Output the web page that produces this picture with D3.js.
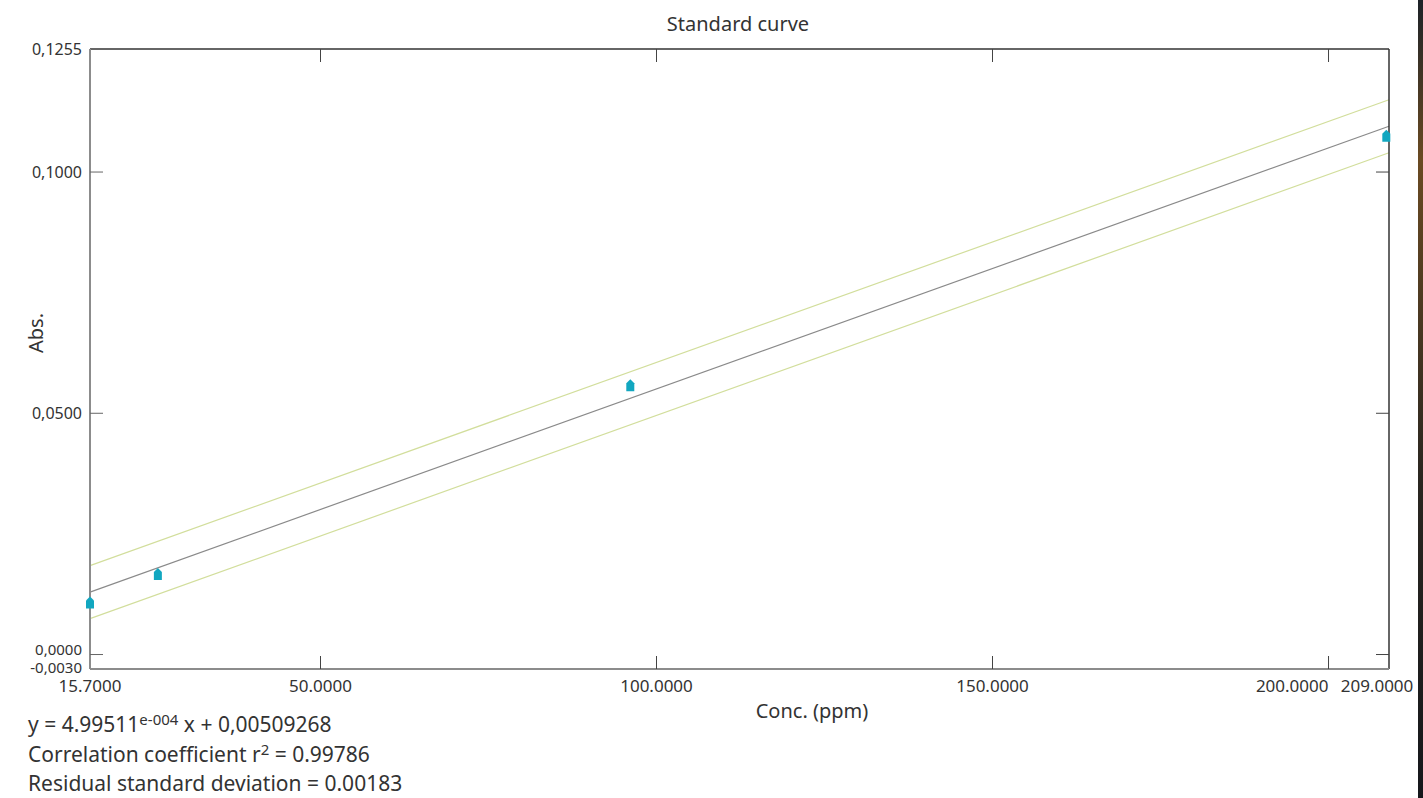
<!DOCTYPE html>
<html>
<head>
<meta charset="utf-8">
<script src="https://cdn.jsdelivr.net/npm/d3@7"></script>
<style>
  body { margin: 0; background: #fff; }
  svg { display: block; font-family: "Noto Sans", "Open Sans", sans-serif; }
  .tickLabel { font-size: 17px; fill: #333; }
  .yLabel { font-size: 16px; }
  .yLabel.tight { font-size: 15px; }
  .axisTitle { font-size: 20px; fill: #333; }
  .stats { font-size: 21px; fill: #333; }
</style>
</head>
<body>
<svg id="chart"></svg>
<script>
var width = 1423, height = 798;

// Standards.
var concValues = [15.7, 25.8, 96.1, 208.6];
var absValues = [0.0108, 0.0167, 0.0558, 0.1075];

// Regression reported by the instrument.
var slope = 4.99511e-4;
var intercept = 0.00509268;
var residualSd = 0.00183;

var xTickValues = [15.7, 50, 100, 150, 200, 209];
var xTickLabels = ["15.7000", "50.0000", "100.0000", "150.0000", "200.0000", "209.0000"];
var yTickValues = [0.1255, 0.1, 0.05, 0, -0.003];
var yTickLabels = ["0,1255", "0,1000", "0,0500", "0,0000", "-0,0030"];
var statLines = ["Correlation coefficient r", "Residual standard deviation = 0.00183"];

var plot = { left: 90, right: 1389, top: 49, bottom: 669 };

var svg = d3.select("#chart")
  .attr("width", width)
  .attr("height", height);

var x = d3.scaleLinear().domain([15.7, 209]).range([plot.left, plot.right]);
var y = d3.scaleLinear().domain([-0.003, 0.1255]).range([plot.bottom, plot.top]);

// Screen edge visible in the capture.
var edge = svg.append("defs").append("linearGradient")
  .attr("id", "edge").attr("x1", 0).attr("x2", 0).attr("y1", 0).attr("y2", 1);
edge.append("stop").attr("offset", "0%").attr("stop-color", "#1c2228");
edge.append("stop").attr("offset", "20%").attr("stop-color", "#6a4a22");
edge.append("stop").attr("offset", "60%").attr("stop-color", "#2a2620");
edge.append("stop").attr("offset", "100%").attr("stop-color", "#15171b");
svg.append("rect")
  .attr("x", 1418).attr("y", 0).attr("width", 5).attr("height", height)
  .attr("fill", "url(#edge)");

svg.append("text")
  .attr("class", "axisTitle")
  .attr("x", 738)
  .attr("y", 31)
  .attr("text-anchor", "middle")
  .text("Standard curve");

// Fit line and +/- 3 sd band.
var lines = [
  { off: 3 * residualSd, color: "#d2de9c", w: 1.2 },
  { off: -3 * residualSd, color: "#d2de9c", w: 1.2 },
  { off: 0, color: "#8a8a8a", w: 1.2 }
];
var xEnds = x.domain();
svg.append("g").selectAll("line")
  .data(lines)
  .enter().append("line")
    .attr("x1", x(xEnds[0]))
    .attr("x2", x(xEnds[1]))
    .attr("y1", function(d) { return y(slope * xEnds[0] + intercept + d.off); })
    .attr("y2", function(d) { return y(slope * xEnds[1] + intercept + d.off); })
    .attr("stroke", function(d) { return d.color; })
    .attr("stroke-width", function(d) { return d.w; });

// Frame: light left/bottom, dark top/right.
var frame = svg.append("g");
frame.append("line").attr("x1", plot.left).attr("x2", plot.right).attr("y1", plot.top).attr("y2", plot.top)
  .attr("stroke", "#333").attr("stroke-width", 1.5);
frame.append("line").attr("x1", plot.right).attr("x2", plot.right).attr("y1", plot.top).attr("y2", plot.bottom)
  .attr("stroke", "#333").attr("stroke-width", 1.5);
frame.append("line").attr("x1", plot.left).attr("x2", plot.left).attr("y1", plot.top).attr("y2", plot.bottom)
  .attr("stroke", "#8c8c8c").attr("stroke-width", 2);
frame.append("line").attr("x1", plot.left).attr("x2", plot.right).attr("y1", plot.bottom).attr("y2", plot.bottom)
  .attr("stroke", "#8c8c8c").attr("stroke-width", 2);

// Inner tick marks, only on the round values.
var tickLen = 13;
var xMarks = xTickValues.filter(function(v) { return v % 50 === 0; });
var yMarks = yTickValues.filter(function(v) { return Math.round(v * 10000) % 500 === 0; });

svg.append("g").selectAll("line")
  .data(xMarks)
  .enter().append("line")
    .attr("x1", function(d) { return x(d); })
    .attr("x2", function(d) { return x(d); })
    .attr("y1", plot.bottom)
    .attr("y2", plot.bottom - tickLen)
    .attr("stroke", "#444");
svg.append("g").selectAll("line")
  .data(xMarks)
  .enter().append("line")
    .attr("x1", function(d) { return x(d); })
    .attr("x2", function(d) { return x(d); })
    .attr("y1", plot.top)
    .attr("y2", plot.top + tickLen)
    .attr("stroke", "#444");
svg.append("g").selectAll("line")
  .data(yMarks)
  .enter().append("line")
    .attr("x1", plot.left)
    .attr("x2", plot.left + tickLen)
    .attr("y1", function(d) { return y(d); })
    .attr("y2", function(d) { return y(d); })
    .attr("stroke", "#666");
svg.append("g").selectAll("line")
  .data(yMarks)
  .enter().append("line")
    .attr("x1", plot.right)
    .attr("x2", plot.right - tickLen)
    .attr("y1", function(d) { return y(d); })
    .attr("y2", function(d) { return y(d); })
    .attr("stroke", "#444");

// Tick labels; the two bottom ones sit close, shrink and nudge them apart.
var yNudge = [0, 0, 0, -5, -1];
svg.append("g").selectAll("text")
  .data(yTickValues)
  .enter().append("text")
    .attr("class", function(d, i) { return i >= 3 ? "tickLabel yLabel tight" : "tickLabel yLabel"; })
    .attr("x", plot.left - 8)
    .attr("y", function(d, i) { return y(d) + yNudge[i]; })
    .attr("dy", "0.35em")
    .attr("text-anchor", "end")
    .text(function(d, i) { return yTickLabels[i]; });

svg.append("g").selectAll("text")
  .data(xTickValues)
  .enter().append("text")
    .attr("class", "tickLabel")
    .attr("x", function(d, i) {
      // last label is pushed left so it fits
      if (i === xTickValues.length - 1) return x(d) - 12;
      return x(d);
    })
    .attr("y", plot.bottom + 23)
    .attr("text-anchor", function(d, i) { return i === xTickValues.length - 2 ? "end" : "middle"; })
    .text(function(d, i) { return xTickLabels[i]; });

svg.append("text")
  .attr("class", "axisTitle")
  .attr("x", 812)
  .attr("y", 718)
  .attr("text-anchor", "middle")
  .text("Conc. (ppm)");

svg.append("text")
  .attr("class", "axisTitle")
  .attr("transform", "translate(43," + 333 + ") rotate(-90)")
  .attr("text-anchor", "middle")
  .text("Abs.");

// Standards drawn as small house-shaped markers.
var marker = "M-4,-2 L0,-6 L4,-2 L4,6 L-4,6 Z";
svg.append("g").selectAll("path")
  .data(concValues)
  .enter().append("path")
    .attr("d", marker)
    .attr("transform", function(d, i) { return "translate(" + x(d) + "," + y(absValues[i]) + ")"; })
    .attr("fill", "#12a7c0");

// Regression summary.
var stats = svg.append("g").attr("class", "stats");
var eq = stats.append("text").attr("x", 28).attr("y", 732);
eq.append("tspan").text("y = 4.99511");
eq.append("tspan").attr("font-size", "15px").attr("dy", -7).text("e-004");
eq.append("tspan").attr("dy", 7).text(" x + 0,00509268");

var r2 = stats.append("text").attr("x", 28).attr("y", 762);
r2.append("tspan").text(statLines[0]);
r2.append("tspan").attr("font-size", "15px").attr("dy", -7).text("2");
r2.append("tspan").attr("dy", 7).text(" = 0.99786");

stats.append("text").attr("x", 28).attr("y", 791).text(statLines[1]);
</script>
</body>
</html>
